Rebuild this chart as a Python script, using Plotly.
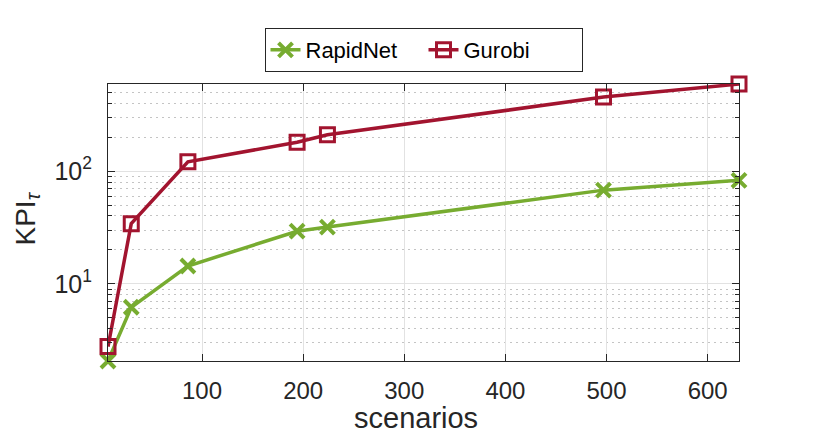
import plotly.graph_objects as go
import numpy as np

scenarios = [7, 30, 86, 194, 224, 497, 631]
rapidnet = [2.07, 6.2, 14.4, 29.3, 31.9, 67.8, 82.8]
gurobi = [2.78, 34.2, 121, 180, 210, 453, 592]

ytick_vals = [10, 100]
ytick_text = ['10<sup>1</sup>', '10<sup>2</sup>']
xtick_vals = [100, 200, 300, 400, 500, 600]

GREEN = '#77AC30'
RED = '#A2142F'
AX = '#262626'
FONT = 'Liberation Sans, Arial, sans-serif'

fig = go.Figure()
fig.add_trace(go.Scatter(
    x=scenarios, y=rapidnet, name='RapidNet', mode='lines+markers',
    line=dict(color=GREEN, width=3.5),
    marker=dict(symbol='x-thin', size=14, color=GREEN,
                line=dict(color=GREEN, width=4)),
    cliponaxis=False
))
fig.add_trace(go.Scatter(
    x=scenarios, y=gurobi, name='Gurobi', mode='lines+markers',
    line=dict(color=RED, width=3.5),
    marker=dict(symbol='square-open', size=14, color=RED,
                line=dict(color=RED, width=3)),
    cliponaxis=False
))

# the page body has an 8px margin, so the margins are offset by 8px
fig.update_layout(
    width=814, height=440,
    paper_bgcolor='white', plot_bgcolor='white',
    font=dict(family=FONT, color=AX, size=24),
    margin=dict(l=100, r=83, t=76, b=87),
    showlegend=True,
    legend=dict(
        orientation='h', x=0.5, xanchor='center', y=1.202, yanchor='top',
        font=dict(size=22, color='black'),
        bordercolor=AX, borderwidth=1, bgcolor='white',
        entrywidth=113,
    ),
)

# axis titles as annotations so the plot box stays fixed
fig.add_annotation(
    text='scenarios', xref='paper', yref='paper', x=0.5, y=0,
    xshift=-8, yshift=-57, xanchor='center', yanchor='middle',
    showarrow=False, font=dict(family=FONT, size=29, color=AX)
)
fig.add_annotation(
    text='KPI<sub><i>τ</i></sub>', xref='paper', yref='paper', x=0, y=0.5,
    xshift=-81, yshift=4, xanchor='center', yanchor='middle', textangle=-90,
    showarrow=False, font=dict(family=FONT, size=28, color=AX)
)

fig.update_xaxes(
    range=[min(scenarios), max(scenarios)],
    tickvals=xtick_vals,
    ticks='inside', ticklen=7, tickcolor=AX,
    showline=True, linecolor=AX, linewidth=1, mirror='ticks',
    showgrid=True, gridcolor='#e2e2e2', gridwidth=1,
    zeroline=False, automargin=False,
    ticklabelstandoff=8,
    tickfont=dict(size=24),
)

fig.update_yaxes(
    type='log',
    range=[np.log10(min(rapidnet)), np.log10(max(gurobi))],
    tickvals=ytick_vals, ticktext=ytick_text,
    ticks='inside', ticklen=7, tickcolor=AX,
    showline=True, linecolor=AX, linewidth=1, mirror='ticks',
    showgrid=True, gridcolor='#e2e2e2', gridwidth=1,
    zeroline=False, automargin=False,
    ticklabelstandoff=10,
    tickfont=dict(size=25),
    minor=dict(ticks='inside', ticklen=4, tickcolor=AX, dtick='D1',
               showgrid=True, gridcolor='#c4c4c4', griddash='2px,4px', gridwidth=1),
)

fig.write_html('out.html')
